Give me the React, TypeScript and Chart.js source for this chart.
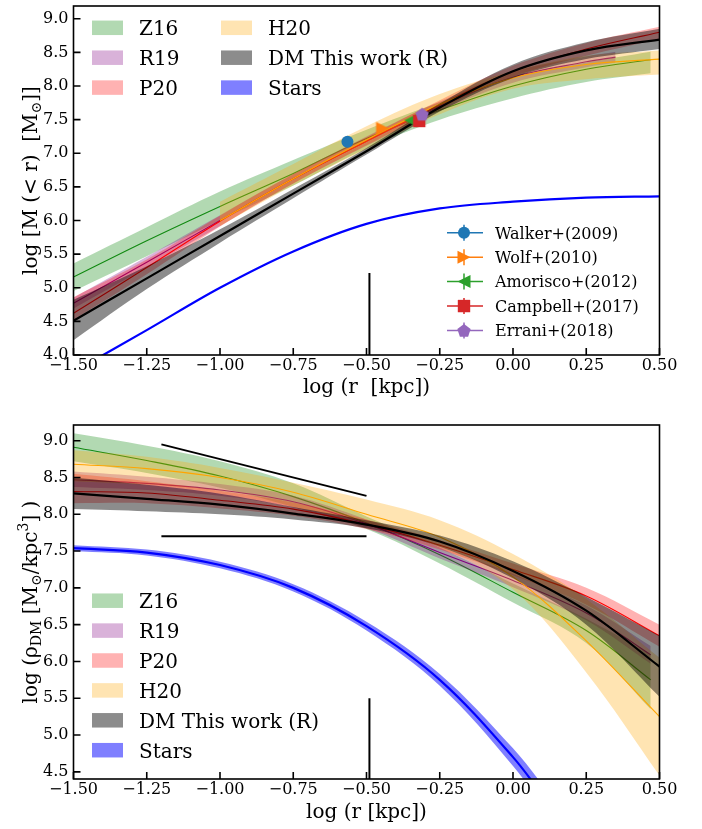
import React, { useEffect, useRef } from 'react';
import { Chart, registerables } from 'chart.js';

Chart.register(...registerables);

const SERIF = "'DejaVu Serif', 'Liberation Serif', serif";
Chart.defaults.font.family = SERIF;
Chart.defaults.color = '#000';

// ---- radii, log10(r / kpc) ----
const LOG_R = [-1.5, -1.25, -1.0, -0.75, -0.5, -0.25, 0.0, 0.25, 0.5];
const LOG_R_Z16 = [-1.5, -1.25, -1.0, -0.75, -0.5, -0.25, 0.0, 0.25, 0.47];
const LOG_R_R19_MASS = [-1.5, -1.25, -1.0, -0.75, -0.5, -0.25, 0.0, 0.25, 0.35];
const LOG_R_R19_RHO = [-1.5, -1.25, -1.0, -0.75, -0.5, -0.25, 0.0, 0.25, 0.47];
const LOG_R_H20_MASS = [-1.0, -0.75, -0.5, -0.25, 0.0, 0.25, 0.5];
const LOG_R_STARS_RHO = [-1.5, -1.25, -1.0, -0.75, -0.5, -0.25, 0.0, 0.125];

// ---- enclosed mass, log M(<r) [Msun] ----
const MASS_Z16 = [5.16, 5.70, 6.21, 6.70, 7.22, 7.64, 8.0, 8.25, 8.39];
const MASS_Z16_LO = [4.95, 5.47, 6.0, 6.52, 7.07, 7.50, 7.82, 8.06, 8.19];
const MASS_Z16_HI = [5.36, 5.90, 6.43, 6.90, 7.35, 7.76, 8.12, 8.35, 8.51];
const MASS_R19 = [4.77, 5.38, 6.0, 6.62, 7.18, 7.70, 8.13, 8.36, 8.43];
const MASS_R19_LO = [4.69, 5.30, 5.92, 6.55, 7.11, 7.63, 8.05, 8.28, 8.35];
const MASS_R19_HI = [4.85, 5.46, 6.08, 6.69, 7.25, 7.77, 8.21, 8.44, 8.51];
const MASS_P20 = [4.62, 5.30, 5.99, 6.62, 7.18, 7.72, 8.22, 8.55, 8.80];
const MASS_P20_LO = [4.52, 5.20, 5.91, 6.55, 7.12, 7.66, 8.14, 8.45, 8.70];
const MASS_P20_HI = [4.86, 5.42, 6.07, 6.69, 7.24, 7.79, 8.30, 8.64, 8.88];
const MASS_H20 = [6.0, 6.62, 7.2, 7.73, 8.12, 8.32, 8.40];
const MASS_H20_LO = [5.92, 6.52, 7.06, 7.58, 7.96, 8.10, 8.17];
const MASS_H20_HI = [6.28, 6.84, 7.40, 7.88, 8.22, 8.45, 8.53];
const MASS_DM = [4.51, 5.14, 5.77, 6.40, 7.03, 7.68, 8.22, 8.53, 8.69];
const MASS_DM_LO = [4.22, 4.98, 5.67, 6.33, 6.98, 7.62, 8.12, 8.40, 8.55];
const MASS_DM_HI = [4.82, 5.32, 5.87, 6.47, 7.08, 7.74, 8.32, 8.65, 8.85];
const MASS_STARS = [3.75, 4.37, 5.0, 5.54, 5.95, 6.18, 6.28, 6.34, 6.36];

// ---- dynamical mass estimates at the half-light radius ----
const OBS_LABELS = ['Walker+(2009)', 'Wolf+(2010)', 'Amorisco+(2012)', 'Campbell+(2017)', 'Errani+(2018)'];
const OBS_LOG_R = [-0.565, -0.445, -0.35, -0.32, -0.31];
const OBS_LOG_M = [7.17, 7.37, 7.49, 7.48, 7.58];

// ---- dark matter density, log rho_DM [Msun/kpc^3] ----
const RHO_Z16 = [8.91, 8.73, 8.52, 8.24, 7.88, 7.45, 6.94, 6.42, 5.75];
const RHO_Z16_LO = [8.72, 8.56, 8.36, 8.10, 7.80, 7.33, 6.80, 6.25, 5.35];
const RHO_Z16_HI = [9.10, 8.93, 8.72, 8.42, 7.97, 7.55, 7.06, 6.58, 6.10];
const RHO_R19 = [8.47, 8.42, 8.33, 8.17, 7.87, 7.48, 7.10, 6.66, 6.09];
const RHO_R19_LO = [8.37, 8.33, 8.25, 8.09, 7.81, 7.40, 7.01, 6.56, 5.97];
const RHO_R19_HI = [8.58, 8.51, 8.41, 8.25, 7.93, 7.56, 7.19, 6.76, 6.21];
const RHO_P20 = [8.31, 8.29, 8.19, 8.07, 7.86, 7.58, 7.25, 6.89, 6.35];
const RHO_P20_LO = [8.15, 8.15, 8.08, 7.98, 7.80, 7.52, 7.17, 6.77, 6.20];
const RHO_P20_HI = [8.55, 8.45, 8.32, 8.16, 7.93, 7.65, 7.33, 7.00, 6.50];
const RHO_H20 = [8.68, 8.62, 8.50, 8.30, 8.00, 7.69, 7.15, 6.28, 5.25];
const RHO_H20_LO = [8.45, 8.40, 8.28, 8.10, 7.88, 7.55, 6.98, 5.85, 4.45];
const RHO_H20_HI = [8.87, 8.78, 8.63, 8.43, 8.20, 7.92, 7.46, 6.85, 6.05];
const RHO_DM = [8.285, 8.21, 8.13, 8.01, 7.86, 7.63, 7.23, 6.69, 5.93];
const RHO_DM_LO = [8.07, 8.04, 8.0, 7.93, 7.81, 7.56, 7.13, 6.50, 5.52];
const RHO_DM_HI = [8.50, 8.40, 8.28, 8.10, 7.92, 7.71, 7.36, 6.88, 6.35];
const RHO_STARS = [7.54, 7.48, 7.31, 7.0, 6.48, 5.75, 4.70, 4.05];
const RHO_STARS_LO = [7.50, 7.44, 7.265, 6.95, 6.42, 5.67, 4.58, 3.90];
const RHO_STARS_HI = [7.58, 7.52, 7.355, 7.05, 6.54, 5.83, 4.82, 4.20];

// ---- reference marks ----
const RHALF_LOG_R = -0.49;
const RHALF_MASS_SPAN = [4.0, 5.22];
const RHALF_RHO_SPAN = [4.4, 5.5];
const GUIDE_LOG_R = [-1.2, -0.5];
const GUIDE_CUSP = [8.95, 8.25];
const GUIDE_CORE = [7.7, 7.7];

// ---- styling ----
const C = {
  z16: { line: '#118a11', fill: 'rgba(0,128,0,0.3)' },
  r19: { line: '#800080', fill: 'rgba(128,0,128,0.3)' },
  p20: { line: '#ff0000', fill: 'rgba(255,0,0,0.3)' },
  h20: { line: '#ffa500', fill: 'rgba(255,165,0,0.3)' },
  dm: { line: '#000000', fill: 'rgba(0,0,0,0.45)' },
  stars: { line: '#0000ff', fill: 'rgba(0,0,255,0.5)' },
};
const OBS_KINDS = ['circle', 'triRight', 'triLeft', 'square', 'pentagon'];
const OBS_COLORS = ['#1f77b4', '#ff7f0e', '#2ca02c', '#d62728', '#9467bd'];
const TENSION = 0.35;

type XY = { x: number; y: number };
const pts = (xs: number[], ys: number[]): XY[] => xs.map((x, i) => ({ x, y: ys[i] }));

function markerPath(g: CanvasRenderingContext2D, kind: string, x: number, y: number) {
  g.beginPath();
  if (kind === 'circle') {
    g.arc(x, y, 6, 0, Math.PI * 2);
  } else if (kind === 'triRight') {
    g.moveTo(x + 6.5, y);
    g.lineTo(x - 6.5, y - 6.5);
    g.lineTo(x - 6.5, y + 6.5);
    g.closePath();
  } else if (kind === 'triLeft') {
    g.moveTo(x - 6.5, y);
    g.lineTo(x + 6.5, y - 6.5);
    g.lineTo(x + 6.5, y + 6.5);
    g.closePath();
  } else if (kind === 'square') {
    g.rect(x - 6.2, y - 6.2, 12.4, 12.4);
  } else {
    for (let k = 0; k < 5; k++) {
      const a = -Math.PI / 2 + (k * 2 * Math.PI) / 5;
      const px = x + 7 * Math.cos(a);
      const py = y + 0.6 + 7 * Math.sin(a);
      if (k === 0) g.moveTo(px, py);
      else g.lineTo(px, py);
    }
    g.closePath();
  }
}

function markerImage(kind: string, color: string) {
  const c = document.createElement('canvas');
  c.width = 18;
  c.height = 18;
  const g = c.getContext('2d')!;
  g.fillStyle = color;
  markerPath(g, kind, 9, 9);
  g.fill();
  return c;
}

function band(xs: number[], lo: number[], hi: number[], fill: string) {
  return [
    { data: pts(xs, lo), borderColor: 'rgba(0,0,0,0)', borderWidth: 0, pointRadius: 0, fill: false, tension: TENSION },
    { data: pts(xs, hi), borderColor: 'rgba(0,0,0,0)', borderWidth: 0, pointRadius: 0, fill: '-1', backgroundColor: fill, tension: TENSION },
  ];
}

function curve(xs: number[], ys: number[], color: string, width: number) {
  return { data: pts(xs, ys), borderColor: color, borderWidth: width, pointRadius: 0, fill: false, tension: TENSION };
}

function segment(xs: number[], ys: number[]) {
  return { data: pts(xs, ys), borderColor: '#000', borderWidth: 2, pointRadius: 0, fill: false };
}

// later entries are painted on top
function stack(list: any[]) {
  return list.map((d, i) => ({ ...d, order: -i }));
}

type Part = [string, 'n' | 'sub' | 'sup'];

function drawVerticalTitle(g: CanvasRenderingContext2D, parts: Part[], baseX: number, centerY: number, size: number) {
  g.save();
  g.translate(baseX, centerY);
  g.rotate(-Math.PI / 2);
  g.textAlign = 'left';
  g.textBaseline = 'alphabetic';
  g.fillStyle = '#000';
  const fontFor = (k: string) => `${k === 'n' ? size : Math.round(size * 0.7)}px ${SERIF}`;
  const widths = parts.map(([t, k]) => {
    g.font = fontFor(k);
    return g.measureText(t).width;
  });
  const total = widths.reduce((a, b) => a + b, 0);
  let x = -total / 2;
  parts.forEach(([t, k], i) => {
    g.font = fontFor(k);
    const dy = k === 'sub' ? size * 0.2 : k === 'sup' ? -size * 0.42 : 0;
    g.fillText(t, x, dy);
    x += widths[i];
  });
  g.restore();
}

const decor = {
  id: 'decor',
  afterDraw(chart: any, _args: any, opts: any) {
    const { ctx: g, chartArea: a, scales } = chart;
    g.save();
    g.strokeStyle = '#000';
    g.lineWidth = 1.6;
    g.beginPath();
    scales.x.ticks.forEach((t: any) => {
      const px = scales.x.getPixelForValue(t.value);
      g.moveTo(px, a.bottom);
      g.lineTo(px, a.bottom - 7);
    });
    scales.y.ticks.forEach((t: any) => {
      const py = scales.y.getPixelForValue(t.value);
      g.moveTo(a.left, py);
      g.lineTo(a.left + 7, py);
    });
    g.stroke();
    g.strokeRect(a.left, a.top, a.right - a.left, a.bottom - a.top);

    (opts.patches || []).forEach((p: any) => {
      g.fillStyle = p.color;
      g.fillRect(p.x, p.y - 7.25, 31, 14.5);
      g.fillStyle = '#000';
      g.font = `20px ${SERIF}`;
      g.textAlign = 'left';
      g.textBaseline = 'alphabetic';
      g.fillText(p.label, p.x + 47, p.y + 7.3);
    });

    (opts.markers || []).forEach((m: any) => {
      g.strokeStyle = m.color;
      g.fillStyle = m.color;
      g.lineWidth = 1.5;
      g.beginPath();
      g.moveTo(m.x - 17, m.y);
      g.lineTo(m.x + 19, m.y);
      g.moveTo(m.x, m.y - 8);
      g.lineTo(m.x, m.y + 8);
      g.stroke();
      markerPath(g, m.kind, m.x, m.y);
      g.fill();
      g.fillStyle = '#000';
      g.font = `16px ${SERIF}`;
      g.textAlign = 'left';
      g.textBaseline = 'alphabetic';
      g.fillText(m.label, m.x + 31, m.y + 5.8);
    });

    if (opts.yTitle) drawVerticalTitle(g, opts.yTitle, 36.5, (a.top + a.bottom) / 2, 20);
    g.restore();
  },
};

const fmt = (v: number, d: number) => v.toFixed(d).replace('-', '\u2212');

function axes(xTitle: string, xHeight: number, titleGap: number, yMin: number, yMax: number) {
  return {
    x: {
      type: 'linear',
      min: -1.5,
      max: 0.5,
      grid: { display: false, drawTicks: false },
      border: { display: false },
      ticks: {
        stepSize: 0.25,
        autoSkip: false,
        maxRotation: 0,
        includeBounds: false,
        padding: 1,
        font: { size: 16 },
        color: '#000',
        callback: (v: number) => fmt(v, 2),
      },
      title: { display: true, text: xTitle, font: { size: 20 }, color: '#000', padding: { top: 0, bottom: titleGap } },
      afterFit: (s: any) => {
        s.height = xHeight;
        s.paddingLeft = 0;
        s.paddingRight = 0;
      },
    },
    y: {
      type: 'linear',
      min: yMin,
      max: yMax,
      grid: { display: false, drawTicks: false },
      border: { display: false },
      ticks: {
        stepSize: 0.5,
        includeBounds: false,
        padding: 5,
        font: { size: 16 },
        color: '#000',
        callback: (v: number) => fmt(v, 1),
      },
      afterFit: (s: any) => {
        s.width = 73.5;
        s.paddingTop = 0;
        s.paddingBottom = 0;
      },
    },
  };
}

function massConfig() {
  const obs = OBS_LABELS.map((label, i) => ({
    label,
    data: [{ x: OBS_LOG_R[i], y: OBS_LOG_M[i] }],
    showLine: false,
    pointStyle: OBS_KINDS[i] === 'circle' ? 'circle' : markerImage(OBS_KINDS[i], OBS_COLORS[i]),
    pointRadius: 6,
    pointBackgroundColor: OBS_COLORS[i],
    pointBorderWidth: 0,
    fill: false,
  }));
  const datasets = stack([
    ...band(LOG_R_Z16, MASS_Z16_LO, MASS_Z16_HI, C.z16.fill),
    curve(LOG_R_Z16, MASS_Z16, C.z16.line, 1.1),
    ...band(LOG_R_R19_MASS, MASS_R19_LO, MASS_R19_HI, C.r19.fill),
    curve(LOG_R_R19_MASS, MASS_R19, C.r19.line, 1.1),
    ...band(LOG_R, MASS_P20_LO, MASS_P20_HI, C.p20.fill),
    curve(LOG_R, MASS_P20, C.p20.line, 1.1),
    ...band(LOG_R_H20_MASS, MASS_H20_LO, MASS_H20_HI, C.h20.fill),
    curve(LOG_R_H20_MASS, MASS_H20, C.h20.line, 1.1),
    ...band(LOG_R, MASS_DM_LO, MASS_DM_HI, C.dm.fill),
    curve(LOG_R, MASS_DM, C.dm.line, 2.2),
    curve(LOG_R, MASS_STARS, C.stars.line, 2.2),
    segment([RHALF_LOG_R, RHALF_LOG_R], RHALF_MASS_SPAN),
    ...obs,
  ]);
  return {
    type: 'line',
    data: { datasets },
    options: {
      animation: false,
      responsive: false,
      events: [],
      layout: { padding: { left: 0, right: 42.5, top: 2, bottom: 0 } },
      scales: axes('log (r  [kpc])', 45, 0, 4.0, 9.19),
      plugins: {
        legend: { display: false },
        tooltip: { enabled: false },
        decor: {
          patches: [
            { label: 'Z16', color: C.z16.fill, x: 92, y: 27.8 },
            { label: 'R19', color: C.r19.fill, x: 92, y: 57.7 },
            { label: 'P20', color: C.p20.fill, x: 92, y: 87.6 },
            { label: 'H20', color: C.h20.fill, x: 221, y: 27.8 },
            { label: 'DM This work (R)', color: C.dm.fill, x: 221, y: 57.7 },
            { label: 'Stars', color: C.stars.fill, x: 221, y: 87.6 },
          ],
          markers: OBS_LABELS.map((label, i) => ({
            label,
            kind: OBS_KINDS[i],
            color: OBS_COLORS[i],
            x: 464,
            y: 232.7 + i * 24.45,
          })),
          yTitle: [
            ['log [M (< r)  [M', 'n'],
            ['\u2299', 'sub'],
            [']]', 'n'],
          ],
        },
      },
    },
    plugins: [decor],
  };
}

function densityConfig() {
  const datasets = stack([
    ...band(LOG_R_Z16, RHO_Z16_LO, RHO_Z16_HI, C.z16.fill),
    curve(LOG_R_Z16, RHO_Z16, C.z16.line, 1.1),
    ...band(LOG_R_R19_RHO, RHO_R19_LO, RHO_R19_HI, C.r19.fill),
    curve(LOG_R_R19_RHO, RHO_R19, C.r19.line, 1.1),
    ...band(LOG_R, RHO_P20_LO, RHO_P20_HI, C.p20.fill),
    curve(LOG_R, RHO_P20, C.p20.line, 1.1),
    ...band(LOG_R, RHO_H20_LO, RHO_H20_HI, C.h20.fill),
    curve(LOG_R, RHO_H20, C.h20.line, 1.1),
    ...band(LOG_R, RHO_DM_LO, RHO_DM_HI, C.dm.fill),
    curve(LOG_R, RHO_DM, C.dm.line, 2.2),
    ...band(LOG_R_STARS_RHO, RHO_STARS_LO, RHO_STARS_HI, C.stars.fill),
    curve(LOG_R_STARS_RHO, RHO_STARS, C.stars.line, 2.2),
    segment(GUIDE_LOG_R, GUIDE_CUSP),
    segment(GUIDE_LOG_R, GUIDE_CORE),
    segment([RHALF_LOG_R, RHALF_LOG_R], RHALF_RHO_SPAN),
  ]);
  const rows = ['Z16', 'R19', 'P20', 'H20', 'DM This work (R)', 'Stars'];
  const fills = [C.z16.fill, C.r19.fill, C.p20.fill, C.h20.fill, C.dm.fill, C.stars.fill];
  return {
    type: 'line',
    data: { datasets },
    options: {
      animation: false,
      responsive: false,
      events: [],
      layout: { padding: { left: 0, right: 42.5, top: 25, bottom: 0 } },
      scales: axes('log (r [kpc])', 50, 4, 4.403, 9.213),
      plugins: {
        legend: { display: false },
        tooltip: { enabled: false },
        decor: {
          patches: rows.map((label, i) => ({ label, color: fills[i], x: 92, y: 200.7 + i * 29.9 })),
          yTitle: [
            ['log (\u03c1', 'n'],
            ['DM', 'sub'],
            [' [M', 'n'],
            ['\u2299', 'sub'],
            ['/kpc', 'n'],
            ['3', 'sup'],
            ['] )', 'n'],
          ],
        },
      },
    },
    plugins: [decor],
  };
}

function Panel({ make, top, height }: { make: () => any; top: number; height: number }) {
  const ref = useRef<HTMLCanvasElement>(null);
  useEffect(() => {
    const chart = new Chart(ref.current as HTMLCanvasElement, make());
    return () => chart.destroy();
  }, [make]);
  return (
    <div style={{ position: 'absolute', left: 0, top, width: 702, height }}>
      <canvas ref={ref} width={702} height={height} style={{ display: 'block' }} />
    </div>
  );
}

export default function App() {
  return (
    <div style={{ position: 'absolute', left: 0, top: 0, width: 702, height: 829, background: '#fff' }}>
      <Panel make={massConfig} top={0} height={400} />
      <Panel make={densityConfig} top={400} height={429} />
    </div>
  );
}
